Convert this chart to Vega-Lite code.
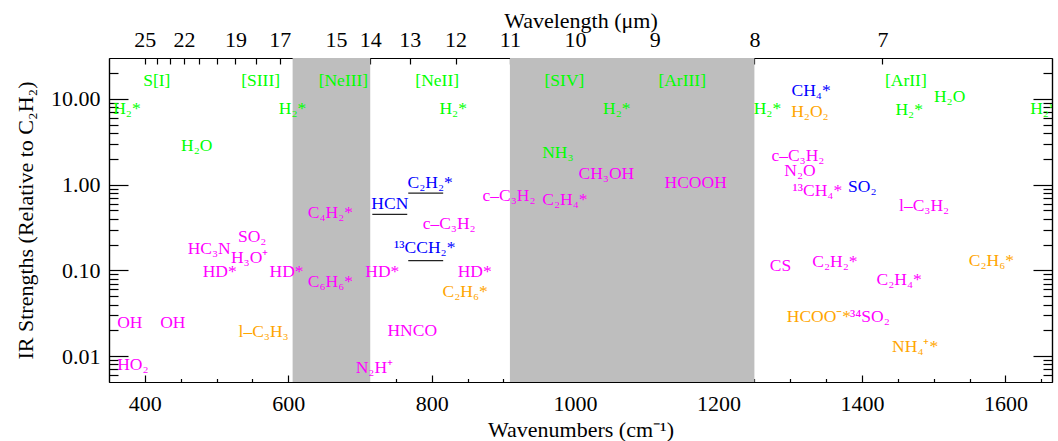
{
  "$schema": "https://vega.github.io/schema/vega-lite/v6.json",
  "width": 943,
  "height": 324,
  "autosize": {"type": "none"},
  "padding": {"left": 109, "top": 58, "right": 6, "bottom": 59},
  "background": "white",
  "config": {
    "view": {"stroke": null},
    "axis": {
      "labelFont": "Liberation Serif",
      "titleFont": "Liberation Serif",
      "labelFontSize": 22,
      "titleFontSize": 22,
      "labelColor": "black",
      "titleColor": "black",
      "titleFontWeight": "normal",
      "domainColor": "black",
      "domainWidth": 1.2,
      "tickColor": "black",
      "tickWidth": 1.2,
      "grid": false,
      "labelOverlap": false,
      "labelFlush": false,
      "zindex": 1
    }
  },
  "datasets": {
    "bands": [
      {"x0": 606.06, "x1": 714.29},
      {"x0": 909.09, "x1": 1250}
    ],
    "underlines": [
      {"x0": 717.2, "x1": 765.9, "y": 0.45},
      {"x0": 767.3, "x1": 816, "y": 0.797},
      {"x0": 767.3, "x1": 816, "y": 0.13}
    ],
    "labels": [
      {"x": 416.7, "y": 16.2, "t": "S[I]", "c": "g"},
      {"x": 561.4, "y": 16.2, "t": "[SIII]", "c": "g"},
      {"x": 676.9, "y": 16.2, "t": "[NeIII]", "c": "g"},
      {"x": 807.7, "y": 16.2, "t": "[NeII]", "c": "g"},
      {"x": 985.1, "y": 16.2, "t": "[SIV]", "c": "g"},
      {"x": 1149.3, "y": 16.2, "t": "[ArIII]", "c": "g"},
      {"x": 1461.2, "y": 16.2, "t": "[ArII]", "c": "g"},
      {"x": 375, "y": 7.6, "t": "H₂*", "c": "g"},
      {"x": 605.9, "y": 7.6, "t": "H₂*", "c": "g"},
      {"x": 829.9, "y": 7.6, "t": "H₂*", "c": "g"},
      {"x": 1058.1, "y": 7.6, "t": "H₂*", "c": "g"},
      {"x": 1268.2, "y": 7.6, "t": "H₂*", "c": "g"},
      {"x": 1465.8, "y": 7.4, "t": "H₂*", "c": "g"},
      {"x": 1653.7, "y": 7.6, "t": "H₂*", "c": "g"},
      {"x": 1522.2, "y": 10.6, "t": "H₂O", "c": "g"},
      {"x": 472.4, "y": 2.8, "t": "H₂O", "c": "g"},
      {"x": 976, "y": 2.33, "t": "NH₃", "c": "g"},
      {"x": 1329, "y": 12.4, "t": "CH₄*", "c": "b"},
      {"x": 1327.4, "y": 7.0, "t": "H₂O₂", "c": "o"},
      {"x": 797.9, "y": 1.06, "t": "C₂H₂*", "c": "b"},
      {"x": 741.6, "y": 0.59, "t": "HCN", "c": "b"},
      {"x": 824.4, "y": 0.352, "t": "c–C₃H₂", "c": "m"},
      {"x": 907.9, "y": 0.73, "t": "c–C₃H₂", "c": "m"},
      {"x": 658.8, "y": 0.462, "t": "C₄H₂*", "c": "m"},
      {"x": 549.6, "y": 0.243, "t": "SO₂", "c": "m"},
      {"x": 489.7, "y": 0.18, "t": "HC₃N", "c": "m"},
      {"x": 546.1, "y": 0.141, "t": "H₃O⁺", "c": "m"},
      {"x": 504.4, "y": 0.097, "t": "HD*", "c": "m"},
      {"x": 597.6, "y": 0.097, "t": "HD*", "c": "m"},
      {"x": 658.8, "y": 0.074, "t": "C₆H₆*", "c": "m"},
      {"x": 731.2, "y": 0.097, "t": "HD*", "c": "m"},
      {"x": 790.3, "y": 0.185, "t": "¹³CCH₂*", "c": "b"},
      {"x": 859.9, "y": 0.097, "t": "HD*", "c": "m"},
      {"x": 846.6, "y": 0.0565, "t": "C₂H₆*", "c": "o"},
      {"x": 1043.5, "y": 1.33, "t": "CH₃OH", "c": "m"},
      {"x": 1168.1, "y": 1.06, "t": "HCOOH", "c": "m"},
      {"x": 985.8, "y": 0.655, "t": "C₂H₄*", "c": "m"},
      {"x": 1310.7, "y": 2.14, "t": "c–C₃H₂", "c": "m"},
      {"x": 1313.5, "y": 1.43, "t": "N₂O", "c": "m"},
      {"x": 1337.8, "y": 0.836, "t": "¹³CH₄*", "c": "m"},
      {"x": 1400.4, "y": 0.93, "t": "SO₂", "c": "b"},
      {"x": 1486.7, "y": 0.558, "t": "l–C₃H₂", "c": "m"},
      {"x": 1286.3, "y": 0.114, "t": "CS", "c": "m"},
      {"x": 1362.2, "y": 0.124, "t": "C₂H₂*", "c": "m"},
      {"x": 1451.9, "y": 0.078, "t": "C₂H₄*", "c": "m"},
      {"x": 1580.6, "y": 0.13, "t": "C₂H₆*", "c": "o"},
      {"x": 379.1, "y": 0.0245, "t": "OH", "c": "m"},
      {"x": 439, "y": 0.0245, "t": "OH", "c": "m"},
      {"x": 565.6, "y": 0.0193, "t": "l–C₃H₃", "c": "o"},
      {"x": 772.9, "y": 0.0198, "t": "HNCO", "c": "m"},
      {"x": 383.3, "y": 0.0079, "t": "HO₂", "c": "m"},
      {"x": 720, "y": 0.0073, "t": "N₂H⁺", "c": "m"},
      {"x": 1340, "y": 0.0288, "t": "HCOO⁻*", "c": "o"},
      {"x": 1411, "y": 0.0288, "t": "³⁴SO₂", "c": "m"},
      {"x": 1474.2, "y": 0.0129, "t": "NH₄⁺*", "c": "o"}
    ]
  },
  "layer": [
    {
      "data": {"name": "bands"},
      "mark": {"type": "rect", "color": "#bebebe"},
      "encoding": {
        "x": {
          "field": "x0",
          "type": "quantitative",
          "scale": {"domain": [350, 1665], "zero": false, "nice": false},
          "axis": {
            "orient": "bottom",
            "title": "Wavenumbers (cm⁻¹)",
            "values": [400, 600, 800, 1000, 1200, 1400, 1600],
            "format": "d",
            "tickSize": -7,
            "labelPadding": 18,
            "titleBaseline": "alphabetic",
            "titleY": 54
          }
        },
        "x2": {"field": "x1"}
      }
    },
    {
      "data": {"name": "underlines"},
      "mark": {"type": "rule", "color": "#222222", "strokeWidth": 1.3},
      "encoding": {
        "x": {
          "field": "x0",
          "type": "quantitative",
          "scale": {"domain": [350, 1665], "zero": false, "nice": false},
          "axis": {
            "orient": "bottom",
            "title": null,
            "labels": false,
            "values": [450, 500, 550, 650, 700, 750, 850, 900, 950, 1050, 1100, 1150, 1250, 1300, 1350, 1450, 1500, 1550, 1650],
            "tickSize": -3.5
          }
        },
        "x2": {"field": "x1"},
        "y": {
          "field": "y",
          "type": "quantitative",
          "scale": {"type": "log", "domain": [0.005, 30], "nice": false},
          "axis": {
            "orient": "left",
            "title": "IR Strengths (Relative to C₂H₂)",
            "values": [0.01, 0.1, 1, 10],
            "format": ".2f",
            "tickSize": -19,
            "labelPadding": 28,
            "titleBaseline": "alphabetic",
            "titleX": -77
          }
        }
      }
    },
    {
      "data": {"name": "labels"},
      "mark": {"type": "text", "font": "Liberation Serif", "fontSize": 17.5, "align": "center", "baseline": "middle", "clip": true},
      "encoding": {
        "x": {
          "field": "x",
          "type": "quantitative",
          "scale": {"domain": [350, 1665], "zero": false, "nice": false},
          "axis": {
            "orient": "top",
            "title": "Wavelength (μm)",
            "values": [400, 416.667, 434.783, 454.545, 476.19, 500, 526.316, 555.556, 588.235, 625, 666.667, 714.286, 769.231, 833.333, 909.091, 1000, 1111.111, 1250, 1428.571],
            "labelExpr": "indexof([25,22,19,17,15,14,13,12,11,10,9,8,7], round(10000/datum.value)) >= 0 ? format(round(10000/datum.value), 'd') : ''",
            "tickSize": -6,
            "labelPadding": 13,
            "titleBaseline": "alphabetic",
            "titleY": -31
          }
        },
        "y": {
          "field": "y",
          "type": "quantitative",
          "scale": {"type": "log", "domain": [0.005, 30], "nice": false},
          "axis": {
            "orient": "right",
            "title": null,
            "labels": false,
            "values": [0.01, 0.1, 1, 10],
            "tickSize": -19
          }
        },
        "text": {"field": "t"},
        "color": {
          "field": "c",
          "type": "nominal",
          "scale": {"domain": ["g", "m", "b", "o"], "range": ["#00ff00", "#ff00ff", "#0000ff", "#ffa500"]},
          "legend": null
        }
      }
    },
    {
      "data": {"name": "underlines"},
      "mark": {"type": "rule", "opacity": 0},
      "encoding": {
        "x": {"field": "x0", "type": "quantitative", "scale": {"domain": [350, 1665], "zero": false, "nice": false}, "axis": null},
        "y": {
          "field": "y",
          "type": "quantitative",
          "scale": {"type": "log", "domain": [0.005, 30], "nice": false},
          "axis": {
            "orient": "left",
            "title": null,
            "labels": false,
            "values": [0.006, 0.007, 0.008, 0.009, 0.02, 0.03, 0.04, 0.05, 0.06, 0.07, 0.08, 0.09, 0.2, 0.3, 0.4, 0.5, 0.6, 0.7, 0.8, 0.9, 2, 3, 4, 5, 6, 7, 8, 9, 20],
            "tickSize": -9
          }
        }
      }
    },
    {
      "data": {"name": "underlines"},
      "mark": {"type": "rule", "opacity": 0},
      "encoding": {
        "x": {"field": "x0", "type": "quantitative", "scale": {"domain": [350, 1665], "zero": false, "nice": false}, "axis": null},
        "y": {
          "field": "y",
          "type": "quantitative",
          "scale": {"type": "log", "domain": [0.005, 30], "nice": false},
          "axis": {
            "orient": "right",
            "title": null,
            "labels": false,
            "values": [0.006, 0.007, 0.008, 0.009, 0.02, 0.03, 0.04, 0.05, 0.06, 0.07, 0.08, 0.09, 0.2, 0.3, 0.4, 0.5, 0.6, 0.7, 0.8, 0.9, 2, 3, 4, 5, 6, 7, 8, 9, 20],
            "tickSize": -9
          }
        }
      }
    }
  ],
  "resolve": {"axis": {"x": "independent", "y": "independent"}}
}
